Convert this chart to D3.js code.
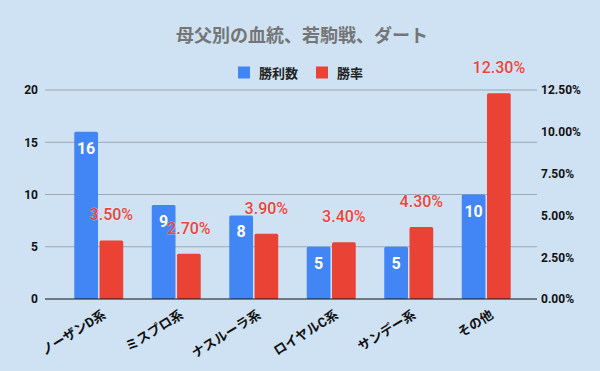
<!DOCTYPE html>
<html>
<head>
<meta charset="utf-8">
<script src="https://cdn.jsdelivr.net/npm/d3@7"></script>
<style>
  body { margin: 0; background: #cfe2f3; }
  text { font-family: Roboto, "Noto Sans CJK JP", sans-serif; }
</style>
</head>
<body>
<div id="chart"></div>
<script>
// data
const categories = ["ノーザンD系", "ミスプロ系", "ナスルーラ系", "ロイヤルC系", "サンデー系", "その他"];
const wins = [16, 9, 8, 5, 5, 10];
const winRate = [3.5, 2.7, 3.9, 3.4, 4.3, 12.3];
const leftTicks = [0, 5, 10, 15, 20];
const rightTicks = [0, 2.5, 5, 7.5, 10, 12.5];

const W = 600, H = 371;
const plotTop = 90, plotBottom = 299, plotLeft = 45, plotRight = 537;

const svg = d3.select("#chart").append("svg")
  .attr("width", W).attr("height", H);

svg.append("rect").attr("width", W).attr("height", H).attr("fill", "#cfe2f3");

// title
svg.append("text")
  .attr("x", 302).attr("y", 42)
  .attr("text-anchor", "middle")
  .attr("font-size", 18).attr("font-weight", "bold")
  .attr("fill", "#757575")
  .text("母父別の血統、若駒戦、ダート");

// legend
const legend = [{ name: "勝利数", color: "#4285f4", x: 238 }, { name: "勝率", color: "#ea4335", x: 316 }];
legend.forEach(l => {
  svg.append("rect").attr("x", l.x).attr("y", 66.5).attr("width", 12).attr("height", 12).attr("fill", l.color);
  svg.append("text").attr("x", l.x + 21).attr("y", 78)
    .attr("font-size", 13).attr("font-weight", "bold").attr("fill", "#222")
    .text(l.name);
});

const yL = d3.scaleLinear().domain([0, 20]).range([plotBottom, plotTop]);
const yR = d3.scaleLinear().domain([0, 12.5]).range([plotBottom, plotTop]);

const x0 = d3.scaleBand().domain(categories).range([60, 525])
  .paddingInner(0.368).paddingOuter(0.184);
const x1 = d3.scaleBand().domain(["wins", "rate"]).range([0, x0.bandwidth()]).paddingInner(0.06);

// gridlines
svg.append("g").selectAll("line").data(leftTicks.slice(1)).join("line")
  .attr("x1", plotLeft).attr("x2", plotRight)
  .attr("y1", d => yL(d)).attr("y2", d => yL(d))
  .attr("stroke", "#9aa7b5").attr("stroke-width", 1);

// left axis
const axL = svg.append("g").attr("transform", `translate(${plotLeft},0)`)
  .call(d3.axisLeft(yL).tickValues(leftTicks).tickSize(0).tickPadding(7));
axL.select(".domain").remove();
axL.selectAll("text").attr("font-size", 12).attr("font-weight", "bold").attr("fill", "#111")
  .style("font-family", "Roboto, sans-serif");

// right axis
const axR = svg.append("g").attr("transform", `translate(${plotRight},0)`)
  .call(d3.axisRight(yR).tickValues(rightTicks).tickSize(0).tickPadding(4)
    .tickFormat(d => d.toFixed(2) + "%"));
axR.select(".domain").remove();
axR.selectAll("text").attr("font-size", 12).attr("font-weight", "bold").attr("fill", "#111")
  .style("font-family", "Roboto, sans-serif");

const groups = svg.append("g").selectAll("g").data(categories).join("g")
  .attr("transform", d => `translate(${x0(d)},0)`);

// blue bars
groups.append("rect")
  .attr("x", x1("wins")).attr("width", x1.bandwidth())
  .attr("y", (d, i) => yL(wins[i])).attr("height", (d, i) => plotBottom - yL(wins[i]))
  .attr("rx", 1.5).attr("fill", "#4285f4");

// red bars
groups.append("rect")
  .attr("x", x1("rate")).attr("width", x1.bandwidth())
  .attr("y", (d, i) => yR(winRate[i])).attr("height", (d, i) => plotBottom - yR(winRate[i]))
  .attr("rx", 1.5).attr("fill", "#ea4335");

// baseline
svg.append("line").attr("x1", plotLeft).attr("x2", plotRight)
  .attr("y1", plotBottom).attr("y2", plotBottom).attr("stroke", "#111").attr("stroke-width", 1);

// labels on blue bars
groups.append("text")
  .attr("x", x1("wins") + x1.bandwidth() / 2)
  .attr("y", (d, i) => yL(wins[i]) + 22)
  .attr("text-anchor", "middle")
  .attr("font-size", 16).attr("font-weight", "bold").attr("fill", "#fff")
  .text((d, i) => wins[i]);

// labels above red bars
groups.append("text")
  .attr("x", x1("rate") + x1.bandwidth() / 2)
  .attr("y", (d, i) => yR(winRate[i]) - 20)
  .attr("text-anchor", "middle")
  .attr("font-size", 16).attr("font-weight", 500).attr("fill", "#e8453c")
  .attr("stroke", "#fff").attr("stroke-width", 1).attr("stroke-opacity", 0.45)
  .attr("paint-order", "stroke")
  .text((d, i) => winRate[i].toFixed(2) + "%");

// x labels
groups.append("text")
  .attr("transform", `translate(${x0.bandwidth() / 2 + 8},317) rotate(-32)`)
  .attr("text-anchor", "end")
  .attr("font-size", 13).attr("font-weight", "bold").attr("fill", "#111")
  .text(d => d);
</script>
</body>
</html>
